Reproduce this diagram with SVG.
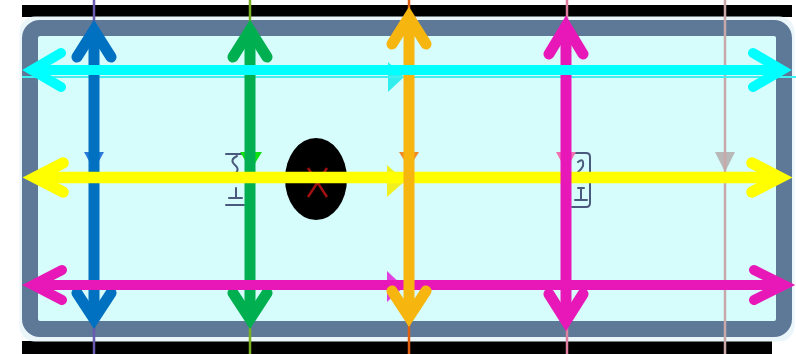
<svg xmlns="http://www.w3.org/2000/svg" width="796" height="354" viewBox="0 0 796 354">
<style>
.shaft{fill:none;stroke-linecap:butt}
.head{fill:none;stroke-linecap:round;stroke-linejoin:miter;stroke-miterlimit:10}
.thin{fill:none;stroke-width:2.5}
.icon{fill:none;stroke:#4a5a7c;stroke-width:2;stroke-linecap:round;stroke-linejoin:round}
</style>
<rect x="0" y="0" width="796" height="354" fill="#ffffff"/>
<g id="frame">
<rect x="22" y="5" width="770" height="12" fill="#000000"/>
<rect x="22" y="341" width="750" height="13" fill="#000000"/>
<rect x="21" y="18" width="772" height="322" rx="14" fill="#eaf6fa" stroke="#eaf6fa" stroke-width="3"/>
<rect x="30" y="28" width="754" height="301" rx="10" fill="#d6fcfc" stroke="#5e7898" stroke-width="16"/>
</g>
<g id="icon-left">
<path class="icon" d="M226,154 L243,154 M237,156 Q229,160 235,165 Q241,170 233,176 M236,188 L236,198 M229,198 L242,198 M226,205 L244,205"/>
</g>
<g id="icon-right">
<path class="icon" d="M572,153 L586,153 Q590,153 590,157 L590,203 Q590,207 586,207 L572,207 M578,162 Q584,157 583,166 Q581,170 578,172 M578,188 L584,188 M581,188 L581,200 M575,200 L587,200"/>
</g>
<g id="hole">
<ellipse cx="316" cy="179" rx="31" ry="41" fill="#000000"/>
<path d="M308,168 L327,197 M327,168 L308,197" stroke="#a01010" stroke-width="2.5" fill="none"/>
</g>
<g id="small-arrowheads">
<polygon points="84,152 104,152 94,170" fill="#2a78d8"/>
<polygon points="240,152 262,152 251,170" fill="#10e010"/>
<polygon points="399,152 419,152 409,168" fill="#f08a28"/>
<polygon points="556,152 576,152 566,170" fill="#f070b0"/>
<polygon points="715,152 735,152 725,172" fill="#b8b8b8"/>
<polygon points="388,62 404,77 388,92" fill="#30eeee"/>
<polygon points="387,165 405,181 387,197" fill="#f0f020"/>
<polygon points="387,271 404,287 387,302" fill="#e040e0"/>
</g>
<g id="connectors">
<g id="guides">
<line class="thin" x1="94" y1="0" x2="94" y2="354" stroke="#6a5ab0"/>
<line class="thin" x1="250" y1="0" x2="250" y2="354" stroke="#7ab020"/>
<line class="thin" x1="409" y1="0" x2="409" y2="354" stroke="#e06010"/>
<line class="thin" x1="567" y1="0" x2="567" y2="354" stroke="#e080a0"/>
<line class="thin" x1="725" y1="0" x2="725" y2="354" stroke="#c8a8a8"/>
<line x1="22" y1="77" x2="796" y2="77" stroke="#40f0f0" stroke-width="2"/>
</g>
<g id="arrow-blue" stroke="#0070c0">
<path class="shaft" stroke-width="11" d="M94,30 L94,319"/>
<path class="head" stroke-width="11" d="M77,57 L94,30 L111,57 M77,293 L94,319 L111,293"/>
</g>
<g id="arrow-green" stroke="#00b050">
<path class="shaft" stroke-width="11" d="M250,30 L250,319"/>
<path class="head" stroke-width="11" d="M233,57 L250,30 L267,57 M233,293 L250,319 L267,293"/>
</g>
<g id="arrow-yellow" stroke="#ffff00">
<path class="shaft" stroke-width="11.5" d="M35,177.5 L780,177.5"/>
<path class="head" stroke-width="11.5" d="M63,163 L35,177.5 L63,192 M752,163 L780,177.5 L752,192"/>
</g>
<g id="arrow-magenta-h" stroke="#e818b8">
<path class="shaft" stroke-width="10" d="M33,285 L784,285"/>
<path class="head" stroke-width="10" d="M62,270 L33,285 L62,300 M754,270 L784,285 L754,300"/>
</g>
<g id="arrow-orange" stroke="#f7b50f">
<path class="shaft" stroke-width="11" d="M409,17 L409,317"/>
<path class="head" stroke-width="11" d="M392,44 L409,17 L426,44 M392,291 L409,317 L426,291"/>
</g>
<g id="arrow-magenta-v" stroke="#e818b8">
<path class="shaft" stroke-width="11" d="M566,26 L566,321"/>
<path class="head" stroke-width="11" d="M549,54 L566,26 L583,54 M549,294 L566,321 L583,294"/>
</g>
<g id="arrow-cyan" stroke="#00ffff">
<path class="shaft" stroke-width="10" d="M32,70 L782,70"/>
<path class="head" stroke-width="10" d="M61,53 L32,70 L61,87 M753,53 L782,70 L753,87"/>
</g>
</g>
</svg>
